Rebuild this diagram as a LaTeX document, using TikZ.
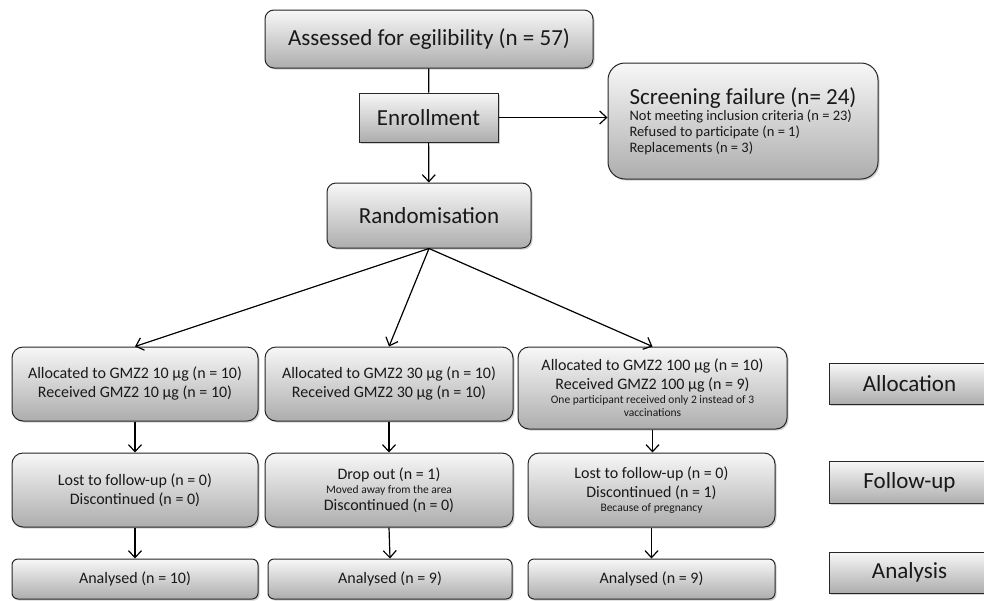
\documentclass[tikz,border=0pt]{standalone}
\usepackage{fontspec}
\setmainfont{Carlito}
\usetikzlibrary{arrows.meta}
\usetikzlibrary{shadows}
\newcommand\smalltxt[1]{{\fontsize{11.5}{13}\selectfont #1}}

\tikzset{
  box/.style={draw=black!85, line width=1pt, top color=black!3, bottom color=black!32,
    drop shadow={shadow xshift=1.6pt, shadow yshift=-1.6pt, opacity=0.35},
    align=center, inner sep=0pt, text=black!90},
  bigbox/.style={box, font=\fontsize{23}{27}\selectfont},
  armbox/.style={box, rounded corners=11pt, minimum width=246pt, minimum height=74pt, font=\fontsize{16}{19}\selectfont},
  endbox/.style={box, rounded corners=6pt, minimum width=246pt, minimum height=40pt, font=\fontsize{16}{19}\selectfont},
  phase/.style={bigbox, minimum width=180pt},
  arr/.style={-{Straight Barb[length=7pt,width=13pt]}, line width=1.2pt},
}

\begin{document}
\begin{tikzpicture}[x=1pt, y=-1pt]
\useasboundingbox (0,0) rectangle (984,600);

\node[bigbox, rounded corners=9pt, minimum width=328pt, minimum height=58pt] (assess) at (429,39) {Assessed for egilibility (n = 57)};
\node[bigbox, minimum width=139pt, minimum height=49pt] (enroll) at (428.5,117.5) {Enrollment};
\node[bigbox, rounded corners=9pt, minimum width=204pt, minimum height=65pt] (random) at (429,215.5) {Randomisation};
\node[box, rounded corners=17pt, align=left, minimum width=270pt, minimum height=116pt, font=\fontsize{14.5}{16}\selectfont] (screen) at (743,121)
  {{\fontsize{23}{23}\selectfont Screening failure (n= 24)}\\Not meeting inclusion criteria (n = 23)\\Refused to participate (n = 1)\\Replacements (n = 3)};

% treatment arms
\node[armbox] (alloc1) at (135,384) {Allocated to GMZ2 10 µg (n = 10)\\Received GMZ2 10 µg (n = 10)};
\node[armbox, minimum width=248pt] (alloc2) at (389,384) {Allocated to GMZ2 30 µg (n = 10)\\Received GMZ2 30 µg (n = 10)};
\node[armbox, minimum width=269pt, minimum height=82pt] (alloc3) at (652.5,388) {Allocated to GMZ2 100 µg (n = 10)\\Received GMZ2 100 µg (n = 9)\\[-5pt]\smalltxt{One participant received only 2 instead of 3}\\[-6pt]\smalltxt{vaccinations}};

\node[armbox] (follow1) at (135,490) {Lost to follow-up (n = 0)\\Discontinued (n = 0)};
\node[armbox, minimum width=248pt] (follow2) at (389,490) {Drop out (n = 1)\\[-5pt]\smalltxt{Moved away from the area}\\[-2pt]Discontinued (n = 0)};
\node[armbox, minimum width=247pt] (follow3) at (651.5,490) {Lost to follow-up (n = 0)\\Discontinued (n = 1)\\[-5pt]\smalltxt{Because of pregnancy}};

\node[endbox] (anal1) at (135,579) {Analysed (n = 10)};
\node[endbox, minimum width=244pt] (anal2) at (390,579) {Analysed (n = 9)};
\node[endbox, minimum width=247pt] (anal3) at (651.5,579) {Analysed (n = 9)};

% phase labels, cut by the right edge
\node[phase, minimum height=41pt, text depth=0pt] (palloc) at (919,383.5) {\makebox[161pt]{Allocation}\hspace*{19pt}};
\node[phase, minimum height=42pt] (pfollow) at (919,482) {\makebox[161pt]{Follow-up}\hspace*{19pt}};
\node[phase, minimum height=41pt] (panal) at (919,572.5) {\makebox[161pt]{Analysis}\hspace*{19pt}};

\draw[line width=1.2pt] (assess) -- (enroll);
\draw[arr] (enroll) -- (random);
\draw[arr] (enroll.east) -- (enroll.east -| screen.west);
\foreach \i in {1,2,3} {
  \draw[arr] (random.south) -- (alloc\i.north);
  \draw[arr] (alloc\i.south) -- (alloc\i.south |- follow\i.north);
  \draw[arr] (follow\i.south) -- (anal\i.north);
}

\end{tikzpicture}
\end{document}
